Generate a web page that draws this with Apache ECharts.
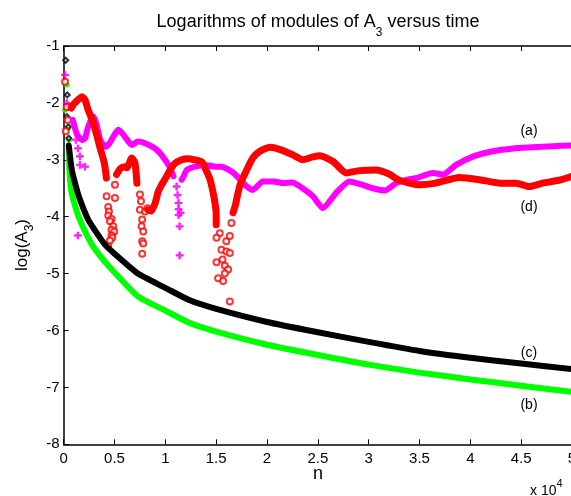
<!DOCTYPE html>
<html>
<head>
<meta charset="UTF-8">
<title>Logarithms of modules of A3</title>
<script src="https://cdn.jsdelivr.net/npm/echarts@6/dist/echarts.min.js"></script>
</head>
<body style="margin:0">
<div id="container" style="width:571px;height:496px"></div>
<script>
// x in units of 10^4, y = log(A3)
var xTicks = [0, 0.5, 1, 1.5, 2, 2.5, 3, 3.5, 4, 4.5, 5];

// (a) magenta +
var magStart = [[0.013,-1.51],[0.03,-2.0],[0.045,-2.07],[0.14,-2.8],[0.16,-2.94],[0.16,-3.09],[0.21,-3.12],[0.14,-4.33],[0.12,-2.65]];
var magSeg1 = [[0.09,-2.3],[0.13,-2.55],[0.18,-2.65],[0.21,-2.62],[0.24,-2.42],[0.29,-2.24],[0.32,-2.36],[0.36,-2.65],[0.41,-2.77],[0.45,-2.71],[0.54,-2.47],[0.6,-2.59],[0.67,-2.74],[0.73,-2.68],[0.8,-2.71],[0.9,-2.8],[0.96,-2.91],[1.04,-3.12],[1.08,-3.29]];
var magDip = [[1.11,-3.47],[1.12,-3.62],[1.13,-3.76],[1.13,-3.87],[1.13,-3.97],[1.14,-4.17],[1.14,-4.68],[1.15,-3.93]];
var magSeg2 = [[1.16,-3.35],[1.18,-3.29],[1.21,-3.18],[1.29,-3.12],[1.39,-3.09],[1.49,-3.12],[1.55,-3.12],[1.67,-3.23],[1.8,-3.47],[1.86,-3.53],[1.96,-3.38],[2.06,-3.38],[2.16,-3.41],[2.25,-3.4],[2.35,-3.5],[2.45,-3.64],[2.55,-3.85],[2.68,-3.58],[2.81,-3.38],[2.94,-3.44],[3.04,-3.5],[3.16,-3.54],[3.27,-3.41],[3.4,-3.34],[3.47,-3.32],[3.63,-3.23],[3.73,-3.26],[3.86,-3.09],[4.03,-2.94],[4.22,-2.85],[4.42,-2.8],[4.61,-2.78],[4.81,-2.76],[5.0,-2.75]];

// (b) green
var greenStart = [[0.03,-1.68],[0.013,-2.12],[0.045,-2.44],[0.052,-2.65]];
var greenLine = [[0.05,-2.8],[0.06,-3.3],[0.08,-3.6],[0.11,-3.8],[0.15,-4.02],[0.24,-4.37],[0.3,-4.55],[0.41,-4.8],[0.5,-4.98],[0.73,-5.4],[1.0,-5.65],[1.24,-5.87],[1.5,-6.02],[2.0,-6.25],[2.5,-6.43],[3.0,-6.6],[3.5,-6.74],[4.0,-6.86],[4.5,-6.97],[5.0,-7.08]];

// (c) black
var blackStart = [[0.02,-1.25],[0.035,-1.86],[0.03,-2.24],[0.045,-2.42],[0.05,-2.62]];
var blackLine = [[0.05,-2.75],[0.08,-3.18],[0.11,-3.4],[0.15,-3.65],[0.24,-4.05],[0.3,-4.22],[0.41,-4.5],[0.5,-4.65],[0.73,-5.0],[1.0,-5.25],[1.24,-5.47],[1.5,-5.62],[2.0,-5.85],[2.5,-6.03],[3.0,-6.2],[3.5,-6.36],[4.0,-6.48],[4.5,-6.58],[5.0,-6.68]];

// (d) red circles
var redStart = [[0.013,-1.63],[0.03,-2.07],[0.02,-2.5],[0.04,-2.3]];
var redSeg1 = [[0.075,-2.09],[0.1,-2.02],[0.12,-1.98],[0.15,-1.93],[0.18,-1.89],[0.21,-1.95],[0.24,-2.12],[0.28,-2.3],[0.31,-2.47],[0.355,-2.77],[0.4,-3.06],[0.42,-3.32]];
var redSeg2 = [[0.52,-3.26],[0.56,-3.15],[0.6,-3.12],[0.62,-3.14],[0.67,-2.97],[0.7,-3.05],[0.71,-3.18],[0.72,-3.41]];
var redSeg3 = [[0.83,-3.88],[0.86,-3.9],[0.88,-3.84],[0.9,-3.76],[0.93,-3.56],[0.96,-3.45],[1.0,-3.33],[1.04,-3.2],[1.09,-3.07],[1.16,-3.0],[1.22,-2.98],[1.29,-3.0],[1.36,-3.04],[1.4,-3.18],[1.44,-3.35],[1.47,-3.58],[1.49,-3.78],[1.5,-3.95],[1.5,-4.14]];
var redSeg4 = [[1.666,-3.93],[1.69,-3.79],[1.71,-3.62],[1.74,-3.41],[1.8,-3.18],[1.86,-2.97],[1.93,-2.85],[2.03,-2.78],[2.13,-2.82],[2.25,-2.91],[2.35,-3.0],[2.45,-2.95],[2.52,-2.93],[2.65,-3.03],[2.78,-3.23],[2.91,-3.19],[3.07,-3.18],[3.2,-3.25],[3.3,-3.36],[3.5,-3.44],[3.66,-3.41],[3.89,-3.31],[4.09,-3.35],[4.29,-3.41],[4.45,-3.41],[4.58,-3.47],[4.71,-3.41],[4.87,-3.36],[5.0,-3.29]];
var redDip = [
  [0.422,-3.64],[0.504,-3.67],[0.438,-3.83],[0.445,-3.91],[0.438,-3.98],[0.471,-4.04],[0.455,-4.08],[0.487,-4.17],
  [0.471,-4.23],[0.497,-4.26],[0.471,-4.33],[0.478,-4.37],[0.455,-4.42],[0.438,-4.52],[0.504,-3.44],
  [0.75,-3.61],[0.76,-3.73],[0.75,-3.88],[0.772,-4.05],[0.766,-4.17],[0.782,-4.26],[0.772,-4.43],[0.782,-4.47],
  [0.772,-4.65],[0.8,-3.91],[0.825,-3.85],
  [1.535,-4.29],[1.503,-4.37],[1.6,-4.43],[1.634,-4.34],[1.552,-4.58],[1.6,-4.61],[1.634,-4.64],[1.503,-4.8],
  [1.562,-4.75],[1.585,-4.86],[1.617,-4.93],[1.585,-5.0],[1.519,-5.08],[1.568,-5.13],[1.634,-5.49],[1.65,-4.11]
];

var FONT = 'Liberation Sans, Arial, sans-serif';
var plusPath = 'path://M4,0h2v4h4v2h-4v4h-2v-4h-4v-2h4z';

function band(data, color, width) {
  return {
    type: 'line', data: data, showSymbol: false, smooth: 0.2,
    lineStyle: { color: color, width: width, join: 'round', cap: 'round' },
    itemStyle: { color: color }, silent: true, animation: false
  };
}
function dots(data, color, symbol, size) {
  return {
    type: 'scatter', data: data, symbol: symbol, symbolSize: size,
    itemStyle: { color: color, borderColor: color, borderWidth: 1 }, silent: true, animation: false
  };
}

var chart = echarts.init(document.getElementById('container'));

var option = {
  backgroundColor: '#fff',
  grid: { left: 63.7, right: -1, top: 46, bottom: 51.7, outerBoundsMode: 'none' },
  xAxis: [{
    type: 'value', min: 0, max: 5, interval: 0.5, position: 'bottom',
    axisLine: { lineStyle: { color: '#000', width: 1.5 } },
    axisTick: { inside: true, length: 5, lineStyle: { color: '#000' } },
    axisLabel: { color: '#000', fontSize: 15, fontFamily: FONT, margin: 7 },
    splitLine: { show: false }
  }, {
    type: 'value', min: 0, max: 5, interval: 0.5, position: 'top',
    axisLine: { lineStyle: { color: '#000', width: 1.5 } },
    axisTick: { inside: true, length: 5, lineStyle: { color: '#000' } },
    axisLabel: { show: false }, splitLine: { show: false }
  }],
  yAxis: {
    type: 'value', min: -8, max: -1, interval: 1,
    axisLine: { lineStyle: { color: '#000', width: 1.5 } },
    axisTick: { inside: true, length: 5, lineStyle: { color: '#000' } },
    axisLabel: { color: '#000', fontSize: 15, fontFamily: FONT, margin: 4 },
    splitLine: { show: false }
  },
  series: [
    band(magSeg1, '#ff00ff', 6),
    band(magSeg2, '#ff00ff', 6),
    dots(magStart, '#ff00ff', plusPath, 7),
    dots(magDip, '#ff00ff', plusPath, 7),
    band(greenLine, '#00ff00', 6),
    dots(greenStart, '#00ff00', 'circle', 5),
    band(blackLine, '#000000', 6),
    dots(blackStart, '#000000', 'emptyDiamond', 5),
    band(redSeg1, '#ff0000', 7),
    band(redSeg2, '#ff0000', 7),
    band(redSeg3, '#ff0000', 7),
    band(redSeg4, '#ff0000', 7),
    dots(redStart, '#ff0000', 'emptyCircle', 6),
    dots(redDip, '#ff0000', 'emptyCircle', 6)
  ],
  graphic: [
    { type: 'text', x: 318, y: 5, style: {
        text: '{a|Logarithms of modules of A}{s|3}{a| versus time}', textAlign: 'center', textVerticalAlign: 'top',
        rich: { a: { fontSize: 18, fontFamily: FONT, fill: '#000', lineHeight: 34 },
                s: { fontSize: 12, fontFamily: FONT, fill: '#000', verticalAlign: 'bottom', lineHeight: 34 } } } },
    { type: 'text', x: 22, y: 245, rotation: Math.PI / 2, style: {
        text: '{a|log(A}{s|3}{a|)}', textAlign: 'center', textVerticalAlign: 'middle',
        rich: { a: { fontSize: 17, fontFamily: FONT, fill: '#000', lineHeight: 28 },
                s: { fontSize: 12, fontFamily: FONT, fill: '#000', verticalAlign: 'bottom', lineHeight: 28 } } } },
    { type: 'text', x: 318, y: 474, style: { text: 'n', fontSize: 18, fontFamily: FONT, fill: '#000', textAlign: 'center', textVerticalAlign: 'middle' } },
    { type: 'text', x: 530, y: 478, style: {
        text: '{a|x 10}{s|4}', textAlign: 'left', textVerticalAlign: 'top',
        rich: { a: { fontSize: 14, fontFamily: FONT, fill: '#000', verticalAlign: 'bottom', lineHeight: 20 },
                s: { fontSize: 11, fontFamily: FONT, fill: '#000', verticalAlign: 'top', lineHeight: 20 } } } },
    { type: 'text', x: 529, y: 131, style: { text: '(a)', fontSize: 14, fontFamily: FONT, fill: '#000', textAlign: 'center', textVerticalAlign: 'middle' } },
    { type: 'text', x: 529, y: 207, style: { text: '(d)', fontSize: 14, fontFamily: FONT, fill: '#000', textAlign: 'center', textVerticalAlign: 'middle' } },
    { type: 'text', x: 529, y: 353, style: { text: '(c)', fontSize: 14, fontFamily: FONT, fill: '#000', textAlign: 'center', textVerticalAlign: 'middle' } },
    { type: 'text', x: 529, y: 405, style: { text: '(b)', fontSize: 14, fontFamily: FONT, fill: '#000', textAlign: 'center', textVerticalAlign: 'middle' } }
  ]
};

chart.setOption(option);
</script>
</body>
</html>
